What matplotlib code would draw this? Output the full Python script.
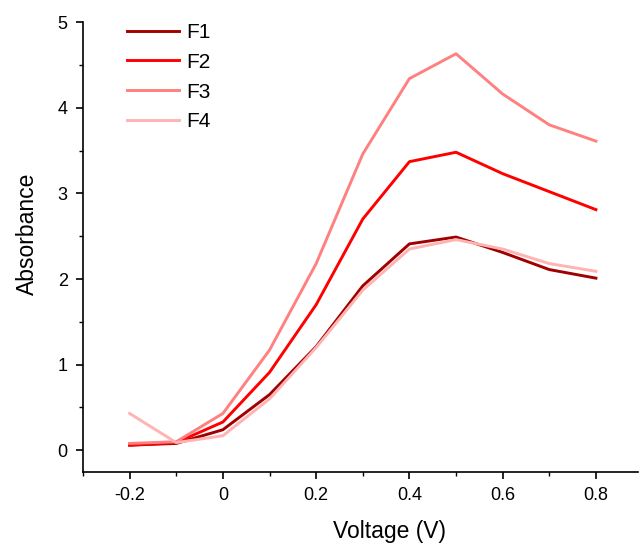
import matplotlib
matplotlib.use("Agg")
import matplotlib.pyplot as plt
from matplotlib.ticker import MultipleLocator

plt.rcParams['font.family'] = ['Liberation Sans', 'DejaVu Sans']

voltage = [-0.2, -0.1, 0.0, 0.1, 0.2, 0.3, 0.4, 0.5, 0.6, 0.7, 0.8]
F1 = [0.06, 0.08, 0.24, 0.65, 1.21, 1.92, 2.41, 2.49, 2.31, 2.11, 2.01]
F2 = [0.06, 0.09, 0.33, 0.91, 1.70, 2.70, 3.37, 3.48, 3.23, 3.02, 2.81]
F3 = [0.08, 0.10, 0.43, 1.17, 2.18, 3.46, 4.34, 4.63, 4.16, 3.80, 3.61]
F4 = [0.43, 0.09, 0.17, 0.60, 1.20, 1.87, 2.35, 2.46, 2.35, 2.18, 2.09]
labels = ['F1', 'F2', 'F3', 'F4']
colors = ['#A00000', '#FF0000', '#FF8080', '#FFB3B3']

fig = plt.figure(figsize=(6.4, 5.45), dpi=100)
ax = fig.add_axes([0.1297, 0.1345, 0.867, 0.825])
for series, lab, col in zip([F1, F2, F3, F4], labels, colors):
    ax.plot(voltage, series, color=col, lw=2.1, label=lab)

ax.set_xlim(-0.3, 0.89)
ax.set_ylim(-0.25, 5)
ax.xaxis.set_minor_locator(MultipleLocator(0.1))
ax.yaxis.set_major_locator(MultipleLocator(1))
ax.yaxis.set_minor_locator(MultipleLocator(0.5))
ax.set_xticks([-0.2, 0, 0.2, 0.4, 0.6, 0.8])
ax.set_xticklabels(['-0.2', '0', '0.2', '0.4', '0.6', '0.8'])
ax.spines['top'].set_visible(False)
ax.spines['right'].set_visible(False)
for s in ['left', 'bottom']:
    ax.spines[s].set_linewidth(1.2)
ax.tick_params(which='major', direction='out', length=5, width=1.2, labelsize=13, pad=6)
ax.tick_params(which='minor', direction='out', length=3, width=1.0)
ax.set_xlabel('Voltage (V)', fontsize=16.5)
ax.set_ylabel('Absorbance', fontsize=16.5)
ax.xaxis.set_label_coords(0.553, -0.108)
ax.yaxis.set_label_coords(-0.08, 0.53)
ax.legend(loc='upper left', bbox_to_anchor=(0.045, 1.04), frameon=False,
          fontsize=15, handlelength=2.5, labelspacing=0.52, handletextpad=0.35)
fig.savefig('out.png', dpi=100)
